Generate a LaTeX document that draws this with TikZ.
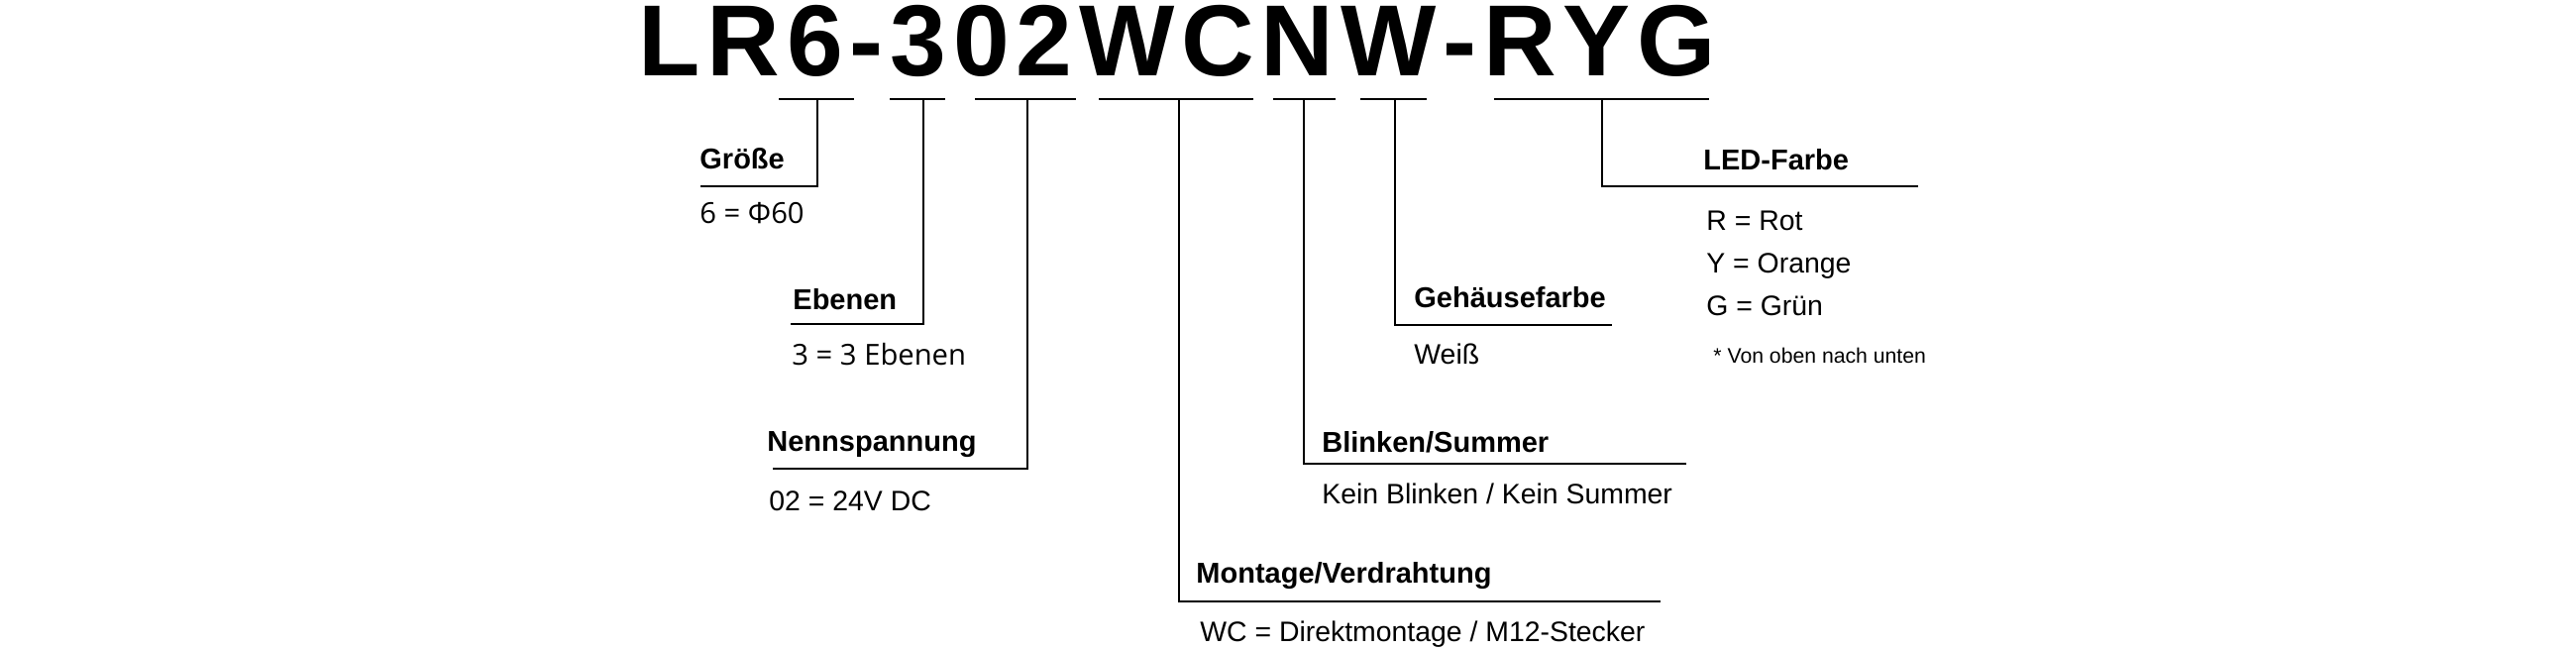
\documentclass[tikz,border=0pt]{standalone}
\usepackage{fontspec}
\setmainfont{Liberation Sans}
\newfontfamily\osfont{Open Sans}
\newcommand\tks{\kern3.4pt}
\tikzset{
 ttl/.style={anchor=base west, inner sep=0pt, font=\fontsize{51}{51}\selectfont\bfseries},
 lbl/.style={anchor=base west, inner sep=0pt, font=\fontsize{14.5}{17}\selectfont\bfseries},
 val/.style={anchor=base west, inner sep=0pt, font=\fontsize{14.2}{17}\selectfont},
 valos/.style={anchor=base west, inner sep=0pt, font=\osfont\fontsize{14.6}{17}\selectfont},
 note/.style={anchor=base west, inner sep=0pt, font=\fontsize{10.6}{12}\selectfont},
 bar/.style={line width=1.1pt},
 lead/.style={line width=0.8pt},
}
\begin{document}
\begin{tikzpicture}[x=0.5pt,y=-0.5pt]
\useasboundingbox (0,0) rectangle (2600,655);
\node[ttl] (title) at (644.5,76) {L\tks R\tks 6\tks -\tks 3\tks 0\tks 2\tks W\tks C\tks N\tks W\tks -\tks R\tks Y\tks G};

% bars under code segments
\draw[bar] (786,100) -- (862,100);
\draw[bar] (898,100) -- (954,100);
\draw[bar] (984,100) -- (1086,100);
\draw[bar] (1109,100) -- (1265,100);
\draw[bar] (1285,100) -- (1348,100);
\draw[bar] (1373,100) -- (1440,100);
\draw[bar] (1508,100) -- (1725,100);

% tap points and leader ends
\coordinate (t1) at (825,100);  \coordinate (e1) at (707,188);
\coordinate (t2) at (932,100);  \coordinate (e2) at (798,327);
\coordinate (t3) at (1037,100); \coordinate (e3) at (780,473);
\coordinate (t4) at (1190,100); \coordinate (e4) at (1676,607);
\coordinate (t5) at (1316,100); \coordinate (e5) at (1702,468);
\coordinate (t6) at (1408,100); \coordinate (e6) at (1627,328);
\coordinate (t7) at (1617,100); \coordinate (e7) at (1936,188);

\draw[lead] (t1) |- (e1);
\draw[lead] (t2) |- (e2);
\draw[lead] (t3) |- (e3);
\draw[lead] (t4) |- (e4);
\draw[lead] (t5) |- (e5);
\draw[lead] (t6) |- (e6);
\draw[lead] (t7) |- (e7);

% labels
\node[lbl] (l1) at (706,170) {Größe};
\node[valos] (v1) at (706,225) {6 = Φ60};
\node[lbl] (l2) at (800,312) {Ebenen};
\node[valos] (v2) at (799,368) {3 = 3 Ebenen};
\node[lbl] (l3) at (774,455) {Nennspannung};
\node[val] (v3) at (776,515) {02 = 24V DC};
\node[lbl] (l4) at (1207,588) {Montage/Verdrahtung};
\node[val] (v4) at (1211,647) {WC = Direktmontage / M12-Stecker};
\node[lbl] (l5) at (1334,456) {Blinken/Summer};
\node[val] (v5) at (1334,508) {Kein Blinken / Kein Summer};
\node[lbl] (l6) at (1427,310) {Gehäusefarbe};
\node[val] (v6) at (1427,367) {Weiß};
\node[lbl] (l7) at (1719,171) {LED-Farbe};
\node[val] (v7a) at (1722,232) {R = Rot};
\node[val] (v7b) at (1722,275) {Y = Orange};
\node[val] (v7c) at (1722,318) {G = Grün};
\node[note] (n7) at (1729,366) {* Von oben nach unten};
\end{tikzpicture}
\end{document}
